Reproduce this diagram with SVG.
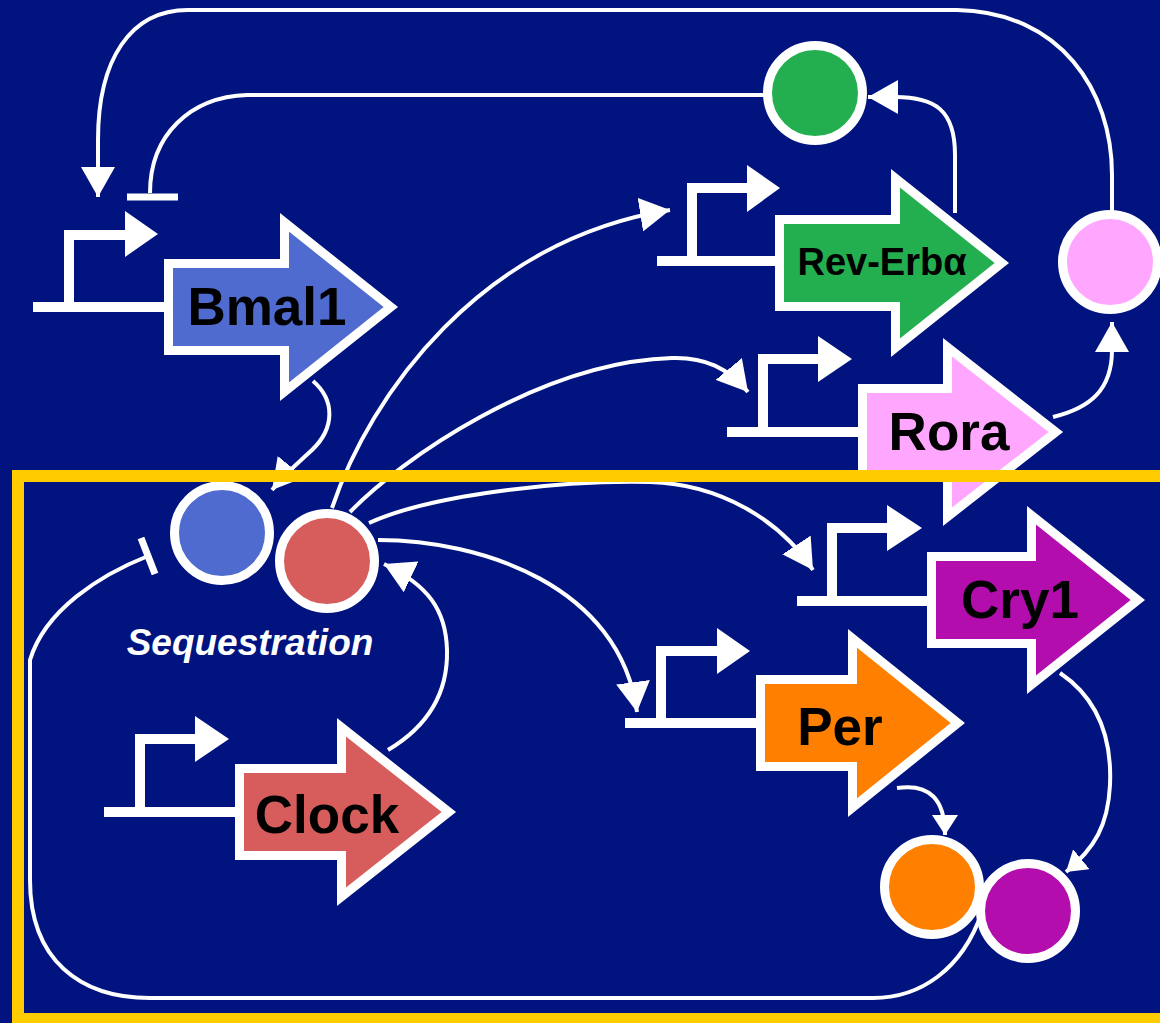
<svg xmlns="http://www.w3.org/2000/svg" width="1160" height="1023" viewBox="0 0 1160 1023">
<defs>
<style>
.gene{stroke:#fff;stroke-width:9}
.lbl{font-family:"Liberation Sans",Arial,sans-serif;font-weight:bold;font-size:53px;fill:#000;text-anchor:middle}
.prom{fill:none;stroke:#fff;stroke-width:10}
.pa{fill:#fff}
.prot{stroke:#fff;stroke-width:9}
.con{fill:none;stroke:#fff;stroke-width:4}
.bar{fill:none;stroke:#fff;stroke-width:7}
</style>
<marker id="ah" viewBox="0 0 30 34" refX="30" refY="17" markerWidth="30" markerHeight="34" orient="auto" markerUnits="userSpaceOnUse"><path d="M0,0 L30,17 L0,34 z" fill="#fff"/></marker>
<marker id="ahs" viewBox="0 0 20 26" refX="20" refY="13" markerWidth="20" markerHeight="26" orient="auto" markerUnits="userSpaceOnUse"><path d="M0,0 L20,13 L0,26 z" fill="#fff"/></marker>
</defs>
<rect x="0" y="0" width="1160" height="1023" fill="#00137f"/>

<g id="connectors">
  <path class="con" d="M1112,214 V175 C1112,90 1060,12 957,10 H188 C130,10 98,60 98,140 V197" marker-end="url(#ah)"/>
  <path class="con" d="M800,95 H247 C190,97 150,135 150,193"/>
  <path class="bar" d="M127,197 H178"/>
  <path class="con" d="M955,213 V155 C955,110 935,97 895,97 L868,97" marker-end="url(#ah)"/>
  <path class="con" d="M1053,417 C1090,408 1112,390 1112,350 L1112,322" marker-end="url(#ah)"/>
  <path class="con" d="M332,508 C370,395 480,240 670,210" marker-end="url(#ah)"/>
  <path class="con" d="M350,512 C400,460 540,362 672,358 C705,357 728,368 748,392" marker-end="url(#ah)"/>
  <path class="con" d="M369,523 C430,495 560,480 650,482 C720,484 780,520 813,570" marker-end="url(#ah)"/>
  <path class="con" d="M378,540 C480,540 620,585 637,712" marker-end="url(#ah)"/>
  <path class="con" d="M388,750 C430,725 448,690 447,650 C446,610 428,585 384,564" marker-end="url(#ah)"/>
  <path class="con" d="M313,381 C335,400 335,428 312,450 C298,463 285,474 272,490" marker-end="url(#ah)"/>
  <path class="con" d="M897,788 C930,783 945,800 945,835" marker-end="url(#ahs)"/>
  <path class="con" d="M1060,673 C1100,700 1112,740 1110,785 C1108,825 1095,848 1066,872" marker-end="url(#ahs)"/>
  <path class="con" d="M982,912 C962,970 920,998 873,998 H150 C80,998 30,960 30,880 V660 C45,610 100,575 148,556"/>
  <path class="bar" d="M141,538 L155,574"/>
</g>

<g id="gene-bmal1">
  <path class="prom" d="M33,307 H170 M69,307 V235 H128"/>
  <polygon class="pa" points="125,211 158,234 125,257"/>
  <polygon class="gene" fill="#506bcf" points="168.5,263.5 284.5,263.5 284.5,222.3 390.8,307 284.5,391.7 284.5,350.5 168.5,350.5"/>
  <text class="lbl" x="267" y="325">Bmal1</text>
</g>

<g id="gene-reverb">
  <path class="prom" d="M657,261 H781 M692,261 V188 H750"/>
  <polygon class="pa" points="747,165 780,188 747,212"/>
  <polygon class="gene" fill="#23af4f" points="779.5,219.5 895.5,219.5 895.5,178.3 1001.8,263 895.5,347.7 895.5,306.5 779.5,306.5"/>
  <text class="lbl" x="882" y="275" style="font-size:38px">Rev-Erbα</text>
</g>

<g id="gene-rora">
  <path class="prom" d="M727,432 H864 M763,432 V359 H820"/>
  <polygon class="pa" points="818,336 852,359 818,382"/>
  <polygon class="gene" fill="#ffa6ff" points="862.5,388.5 947.5,388.5 947.5,347.3 1055.8,432 947.5,516.7 947.5,475.5 862.5,475.5"/>
  <text class="lbl" x="949" y="450">Rora</text>
</g>

<g id="gene-cry1">
  <path class="prom" d="M797,601 H933 M832,601 V528 H889"/>
  <polygon class="pa" points="887,505 922,528 887,551"/>
  <polygon class="gene" fill="#b30dae" points="931.5,556.5 1031.5,556.5 1031.5,515.3 1137.8,600 1031.5,684.7 1031.5,643.5 931.5,643.5"/>
  <text class="lbl" x="1020" y="618">Cry1</text>
</g>

<g id="gene-per">
  <path class="prom" d="M625,723 H762 M661,723 V651 H719"/>
  <polygon class="pa" points="717,628 750,651 717,674"/>
  <polygon class="gene" fill="#ff8000" points="760.5,679.5 852.5,679.5 852.5,638.3 957.8,723 852.5,807.7 852.5,766.5 760.5,766.5"/>
  <text class="lbl" x="840" y="745">Per</text>
</g>

<g id="gene-clock">
  <path class="prom" d="M104,812 H241 M140,812 V739 H197"/>
  <polygon class="pa" points="195,716 229,739 195,762"/>
  <polygon class="gene" fill="#d65d5c" points="239.5,768.5 341.5,768.5 341.5,727.3 448.8,812 341.5,896.7 341.5,855.5 239.5,855.5"/>
  <text class="lbl" x="327" y="833">Clock</text>
</g>

<g id="protein-reverb"><circle class="prot" cx="815" cy="93" r="47.5" fill="#23af4f"/></g>
<g id="protein-rora"><circle class="prot" cx="1110" cy="262" r="47.5" fill="#ffa6ff"/></g>
<g id="protein-bmal1"><circle class="prot" cx="222" cy="533" r="47.5" fill="#506bcf"/></g>
<g id="protein-clock"><circle class="prot" cx="327" cy="561" r="47.5" fill="#d65d5c"/></g>
<g id="protein-per"><circle class="prot" cx="932" cy="887" r="47.5" fill="#ff8000"/></g>
<g id="protein-cry1"><circle class="prot" cx="1028" cy="911" r="47.5" fill="#b30dae"/></g>

<g id="sequestration-label">
  <text x="250" y="655" style="font-family:'Liberation Sans',Arial,sans-serif;font-weight:bold;font-style:italic;font-size:37px;fill:#fff;text-anchor:middle">Sequestration</text>
</g>

<g id="nucleus-frame">
  <rect x="18" y="476" width="1160" height="543" fill="none" stroke="#ffcc00" stroke-width="12"/>
</g>
</svg>
